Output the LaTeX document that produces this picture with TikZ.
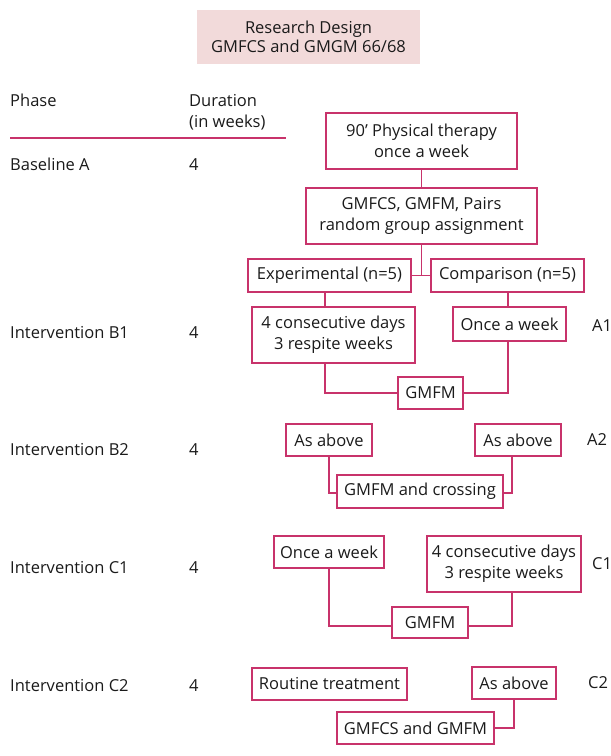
\documentclass[tikz,border=0pt]{standalone}
\usepackage{fontspec}
\setmainfont{Open Sans}
\usepackage{tikz}
\usetikzlibrary{positioning,calc}
\definecolor{crimson}{HTML}{C8336B}
\definecolor{blush}{HTML}{F2DADA}
\definecolor{ink}{HTML}{1A1A1A}

\begin{document}
\begin{tikzpicture}[x=1pt,y=-1pt,
        font=\fontsize{16.5}{21}\selectfont,text=ink,
        box/.style={draw=crimson,line width=1.2pt,align=center,inner sep=0pt},
        wire/.style={draw=crimson,line width=1.2pt},
        lbl/.style={anchor=base west,inner sep=0pt}]
        \useasboundingbox (0,0) rectangle (611,756);
        \node[fill=blush,align=center,minimum width=223pt,minimum height=54pt,font=\fontsize{16.5}{18.7}\selectfont] (title) at (308.5,37) {Research Design\\GMFCS and GMGM 66/68};
        \node[lbl] (phase) at (10,106) {Phase};
        \node[lbl,align=left] (dur) at (189,127) {Duration\\(in weeks)};
        \draw[wire] (10,138) -- (286,138);
        \node[lbl] (pa) at (10,170) {Baseline A};
        \node[lbl] (da) at (189,170) {4};
        \node[lbl] (pb1) at (10,338) {Intervention B1};
        \node[lbl] (db1) at (189,338) {4};
        \node[lbl] (pb2) at (10,455) {Intervention B2};
        \node[lbl] (db2) at (189,455) {4};
        \node[lbl] (pc1) at (10,573) {Intervention C1};
        \node[lbl] (dc1) at (189,573) {4};
        \node[lbl] (pc2) at (10,691) {Intervention C2};
        \node[lbl] (dc2) at (189,691) {4};
        \node[box,minimum width=191pt,minimum height=56pt] (phys) at (421.5,141) {90’ Physical therapy\\once a week};
        \node[box,minimum width=231pt,minimum height=56pt] (assign) at (421.5,216) {GMFCS, GMFM, Pairs\\random group assignment};
        \node[box,minimum width=163pt,minimum height=33pt] (exper) at (329.5,275.5) {Experimental (n=5)};
        \node[box,minimum width=153pt,minimum height=33pt] (compar) at (507.5,275.5) {Comparison (n=5)};
        \node[box,minimum width=163pt,minimum height=56pt] (bexp) at (333.5,335) {4 consecutive days\\3 respite weeks};
        \node[box,minimum width=113pt,minimum height=34pt] (bcomp) at (509.5,324) {Once a week};
        \node[box,minimum width=65pt,minimum height=32pt] (bgmfm) at (430.5,393) {GMFM};
        \node[lbl] (ta1) at (592,331) {A1};
        \node[box,minimum width=86pt,minimum height=32pt] (bbl) at (329,440) {As above};
        \node[box,minimum width=86pt,minimum height=32pt] (bbr) at (518,440) {As above};
        \node[box,minimum width=166pt,minimum height=33pt] (bbm) at (420,491.5) {GMFM and crossing};
        \node[lbl] (ta2) at (587,445) {A2};
        \node[box,minimum width=110pt,minimum height=32pt] (cal) at (329,552) {Once a week};
        \node[box,minimum width=154pt,minimum height=56pt] (car) at (504,564) {4 consecutive days\\3 respite weeks};
        \node[box,minimum width=76pt,minimum height=31pt] (cam) at (430,622.5) {GMFM};
        \node[lbl] (tc1) at (592,569) {C1};
        \node[box,minimum width=155pt,minimum height=32pt] (cbl) at (329.5,684) {Routine treatment};
        \node[box,minimum width=84pt,minimum height=32pt] (cbr) at (514,683) {As above};
        \node[box,minimum width=157pt,minimum height=32pt] (cbm) at (415.5,728) {GMFCS and GMFM};
        \node[lbl] (tc2) at (588,688) {C2};
        \coordinate (xl) at (325,0);
        \coordinate (xr) at (508,0);
        \draw[wire] (phys) -- (assign);
        \draw[wire] (assign) -- (assign.south |- exper.east);
        \draw[wire] (exper) -- (compar);
        \draw[wire] (exper.south -| xl) -- (bexp.north -| xl);
        \draw[wire] (compar.south -| xr) -- (bcomp.north -| xr);
        \draw[wire] (bexp.south -| xl) |- (bgmfm);
        \draw[wire] (bcomp.south -| xr) |- (bgmfm);
        \draw[wire] (bbl) |- ([yshift=-1.5pt]bbm.west);
        \draw[wire] ([xshift=-6pt]bbr.south) |- ([yshift=-1.5pt]bbm.east);
        \draw[wire] (cal) |- ([yshift=-3.5pt]cam.west);
        \draw[wire] ([xshift=8pt]car.south) |- ([yshift=-3.5pt]cam.east);
        \draw[wire] (cbr) |- (cbm);
      \end{tikzpicture}
\end{document}
